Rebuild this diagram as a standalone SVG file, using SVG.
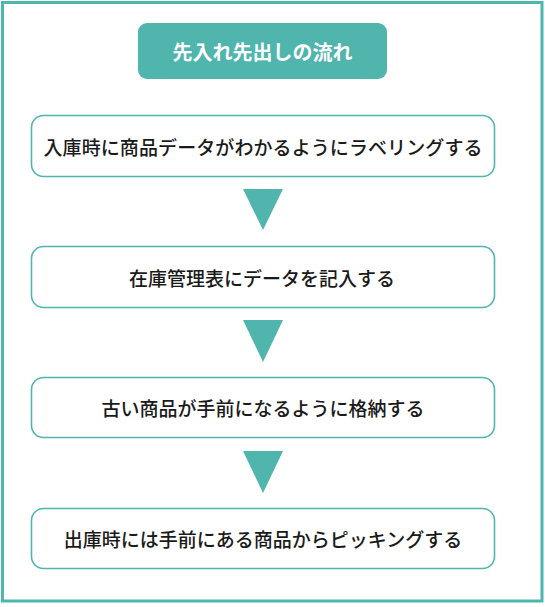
<svg xmlns="http://www.w3.org/2000/svg" width="545" height="607" viewBox="0 0 545 607">
<style>
.frame{fill:#fff;stroke:#4fb5ad;stroke-width:3}
.box{fill:#fff;stroke:#4fb5ad;stroke-width:1.6}
.tri{fill:#4fb5ad}
.t{font-family:"Noto Sans CJK JP","Noto Sans",sans-serif;font-size:19px;font-weight:500;fill:#1a1a1a;text-anchor:middle;dominant-baseline:central}
.title{font-family:"Noto Sans CJK JP","Noto Sans",sans-serif;font-size:20px;font-weight:bold;fill:#fff;text-anchor:middle;dominant-baseline:central}
</style>
<rect class="frame" x="2.5" y="2.5" width="539.5" height="598.5"/>
<g id="title">
<rect x="138" y="23" width="249" height="56" rx="9" fill="#4fb5ad"/>
<text class="title" x="262.5" y="51">先入れ先出しの流れ</text>
</g>
<g id="step1">
<rect class="box" x="31.5" y="115.5" width="463" height="61" rx="12"/>
<text class="t" x="263" y="146" textLength="439" lengthAdjust="spacing">入庫時に商品データがわかるようにラベリングする</text>
</g>
<g id="step2">
<rect class="box" x="31.5" y="246.5" width="463" height="61" rx="12"/>
<text class="t" x="262" y="277">在庫管理表にデータを記入する</text>
</g>
<g id="step3">
<rect class="box" x="31.5" y="377.5" width="463" height="60" rx="12"/>
<text class="t" x="263" y="407">古い商品が手前になるように格納する</text>
</g>
<g id="step4">
<rect class="box" x="31.5" y="508.5" width="463" height="60" rx="12"/>
<text class="t" x="263" y="538">出庫時には手前にある商品からピッキングする</text>
</g>
<g id="connectors">
<polygon class="tri" points="243,189 283,189 263,230"/>
<polygon class="tri" points="243,320 283,320 263,362"/>
<polygon class="tri" points="243,451 283,451 263,493"/>
</g>
</svg>
